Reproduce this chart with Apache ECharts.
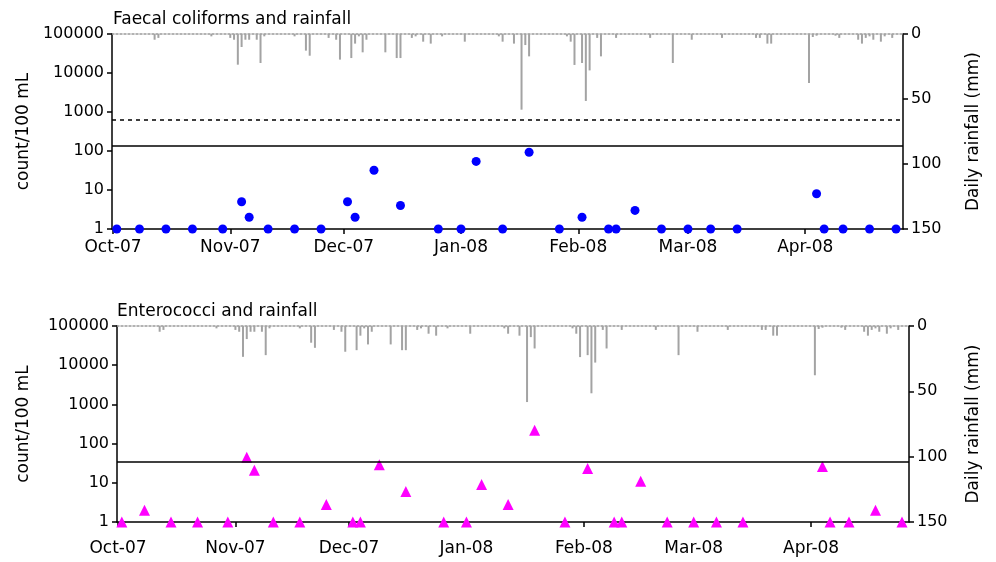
<!DOCTYPE html>
<html>
<head>
<meta charset="utf-8">
<script src="https://cdn.jsdelivr.net/npm/echarts@6/dist/echarts.min.js"></script>
<style>
html,body{margin:0;padding:0;background:#fff;}
#chart{width:996px;height:562px;}
</style>
</head>
<body>
<div id="chart"></div>
<script>
// ---- data ----
const rainDates = [
 '2007-10-12','2007-10-13','2007-10-27',
 '2007-11-01','2007-11-02','2007-11-03','2007-11-04','2007-11-05','2007-11-06','2007-11-08','2007-11-09','2007-11-10',
 '2007-11-18','2007-11-21','2007-11-22','2007-11-27','2007-11-29','2007-11-30',
 '2007-12-03','2007-12-04','2007-12-05','2007-12-06','2007-12-07','2007-12-12','2007-12-15','2007-12-16',
 '2007-12-19','2007-12-20','2007-12-22','2007-12-24','2007-12-27',
 '2008-01-02','2008-01-11','2008-01-12','2008-01-15','2008-01-17','2008-01-18','2008-01-19',
 '2008-01-29','2008-01-30','2008-01-31',
 '2008-02-02','2008-02-03','2008-02-04','2008-02-06','2008-02-07','2008-02-11','2008-02-20','2008-02-26',
 '2008-03-02','2008-03-10','2008-03-19','2008-03-20','2008-03-22','2008-03-23',
 '2008-04-02','2008-04-03','2008-04-04','2008-04-09','2008-04-10','2008-04-15','2008-04-16','2008-04-17',
 '2008-04-18','2008-04-19','2008-04-21','2008-04-22','2008-04-24'
];
const rainMM = [
 4.4,3,1.8,
 3,4.4,23.6,10,4.4,4.4,4.4,22.3,1.8,
 1.8,12.8,16.7,3,4.4,19.7,
 18.5,7.4,1.8,14.1,4.4,14.1,18.5,18.5,
 3,1.8,5.9,7.4,1.8,
 5.9,1.8,5.9,7.4,58.2,8.5,17.2,
 1.8,5.9,23.8,
 22.3,51.5,28,3,17.2,3,3,22.3,
 4.4,3,3,3,7.4,7.4,
 37.7,2.3,1.3,1.3,3,4.4,7.4,3,
 1.8,4.4,5.9,1.8,3
];
const sampleDates = [
 '2007-10-02','2007-10-08','2007-10-15','2007-10-22','2007-10-30',
 '2007-11-04','2007-11-06','2007-11-11','2007-11-18','2007-11-25',
 '2007-12-02','2007-12-04','2007-12-09','2007-12-16','2007-12-26',
 '2008-01-01','2008-01-05','2008-01-12','2008-01-19','2008-01-27',
 '2008-02-02','2008-02-09','2008-02-11','2008-02-16','2008-02-23',
 '2008-03-01','2008-03-07','2008-03-14',
 '2008-04-04','2008-04-06','2008-04-11','2008-04-18','2008-04-25'
];
const faecal = [1,1,1,1,1, 5,2,1,1,1, 5,2,32,4,1, 1,54,1,93,1, 2,1,1,3,1, 1,1,1, 8,1,1,1,1];
const entero  = [1,2,1,1,1, 45,21,1,1,2.8, 1,1,29,6,1, 1,9,2.8,219,1, 23,1,1,11,1, 1,1,1, 26,1,1,2,1];
const faecalGuides = [650, 138];
const enteroGuides = [35];
const titles = ['Faecal coliforms and rainfall', 'Enterococci and rainfall'];
const monthNames = ['Jan','Feb','Mar','Apr','May','Jun','Jul','Aug','Sep','Oct','Nov','Dec'];
const xMin = '2007-10-01';
const xMax = '2008-04-26 14:00';
const countName = 'count/100 mL';
const rainName = 'Daily rainfall (mm)';

// ---- chart ----
const FONT = 'DejaVu Sans';
const FS = 17;
const chart = echarts.init(document.getElementById('chart'));
const DAY = 86400000;

function xAxisDef(gi, margin) {
  return {
    type: 'time', gridIndex: gi, min: xMin, max: xMax, position: 'bottom',
    minInterval: 28 * DAY, maxInterval: 31 * DAY, splitNumber: 7,
    axisLine: { show: true, onZero: false, lineStyle: { color: '#000', width: 1.5 } },
    axisTick: { show: true, length: 5, lineStyle: { color: '#000', width: 1.5 } },
    splitLine: { show: false },
    axisLabel: {
      color: '#000', fontSize: FS, fontFamily: FONT, margin: margin, hideOverlap: false,
      formatter: function (v) {
        const d = new Date(v);
        return monthNames[d.getMonth()] + '-' + String(d.getFullYear()).slice(2);
      }
    }
  };
}
function topAxisDef(gi) {
  return {
    type: 'value', gridIndex: gi, position: 'top',
    min: new Date(xMin).getTime(), max: new Date(xMax).getTime(),
    axisLine: { show: true, onZero: false, lineStyle: { color: '#9a9a9a', width: 1.5, type: [2, 2] } },
    axisTick: { show: false }, minorTick: { show: false },
    axisLabel: { show: false }, splitLine: { show: false }
  };
}
function logAxisDef(gi, gap) {
  return {
    type: 'log', logBase: 10, gridIndex: gi, min: 1, max: 100000, position: 'left',
    name: countName, nameLocation: 'middle', nameGap: gap, nameRotate: 90,
    nameTextStyle: { color: '#000', fontSize: FS, fontFamily: FONT },
    axisLine: { show: true, onZero: false, lineStyle: { color: '#000', width: 1.5 } },
    axisTick: { show: true, length: 5, lineStyle: { color: '#000', width: 1.5 } },
    splitLine: { show: false },
    axisLabel: { color: '#000', fontSize: 16, fontFamily: FONT, margin: 8,
      formatter: function (v) { return String(Math.round(v)); } }
  };
}
function rainAxisDef(gi, gap) {
  return {
    type: 'value', gridIndex: gi, min: 0, max: 150, interval: 50, inverse: true, position: 'right',
    name: rainName, nameLocation: 'middle', nameGap: gap, nameRotate: 90,
    nameTextStyle: { color: '#000', fontSize: FS, fontFamily: FONT },
    axisLine: { show: true, onZero: false, lineStyle: { color: '#000', width: 1.5 } },
    axisTick: { show: true, length: 5, lineStyle: { color: '#000', width: 1.5 } },
    splitLine: { show: false },
    axisLabel: { color: '#000', fontSize: 16, fontFamily: FONT, margin: 8 }
  };
}
function guideLines(vals, dashedFirst) {
  return {
    silent: true, symbol: ['none', 'none'], label: { show: false },
    animation: false,
    data: vals.map((v, i) => ({
      yAxis: v,
      lineStyle: { color: '#000', width: 1.5, opacity: 1, type: (dashedFirst && i === 0) ? [4, 4] : 'solid' }
    }))
  };
}
const rainData = rainDates.map((d, i) => [d, rainMM[i]]);

const option = {
  animation: false,
  backgroundColor: '#fff',
  title: [
    { text: titles[0], left: 113, top: 11, padding: 0, textStyle: { color: '#000', fontSize: FS, fontWeight: 'normal', fontFamily: FONT } },
    { text: titles[1], left: 117, top: 303, padding: 0, textStyle: { color: '#000', fontSize: FS, fontWeight: 'normal', fontFamily: FONT } }
  ],
  grid: [
    { left: 112, right: 93, top: 34, height: 195 },
    { left: 117, right: 87, top: 326, height: 196 }
  ],
  xAxis: [xAxisDef(0, 10), topAxisDef(0), xAxisDef(1, 18), topAxisDef(1)],
  yAxis: [logAxisDef(0, 80), rainAxisDef(0, 62), logAxisDef(1, 85), rainAxisDef(1, 56)],
  series: [
    { type: 'bar', xAxisIndex: 0, yAxisIndex: 1, data: rainData, barWidth: 2, itemStyle: { color: '#a3a3a3' }, z: 1 },
    { type: 'scatter', xAxisIndex: 0, yAxisIndex: 0, clip: false,
      data: sampleDates.map((d, i) => [d, faecal[i]]),
      symbol: 'circle', symbolSize: 9, itemStyle: { color: '#0000ff', opacity: 1 },
      markLine: guideLines(faecalGuides, true), z: 3 },
    { type: 'bar', xAxisIndex: 2, yAxisIndex: 3, data: rainData, barWidth: 2, itemStyle: { color: '#a3a3a3' }, z: 1 },
    { type: 'scatter', xAxisIndex: 2, yAxisIndex: 2, clip: false,
      data: sampleDates.map((d, i) => [d, entero[i]]),
      symbol: 'triangle', symbolSize: 11, itemStyle: { color: '#ff00ff', opacity: 1 },
      markLine: guideLines(enteroGuides, false), z: 3 }
  ]
};
chart.setOption(option);
</script>
</body>
</html>
